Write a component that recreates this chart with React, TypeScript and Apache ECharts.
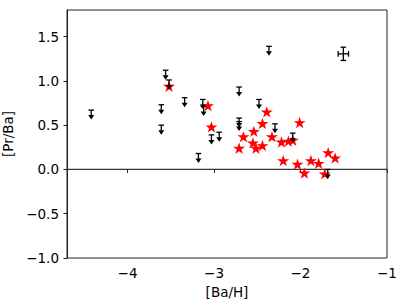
import React, { useEffect, useRef } from "react";
import * as echarts from "echarts";

// Detections (red stars)
const DET_BA_H = [-3.52, -3.07, -3.03, -2.71, -2.66, -2.54, -2.44, -2.39, -2.33, -2.55, -2.44, -2.515, -2.22, -2.14, -2.09, -2.01, -2.2, -2.035, -1.955, -1.88, -1.79, -1.68, -1.6, -1.72];
const DET_PR_BA = [0.94, 0.72, 0.48, 0.24, 0.37, 0.43, 0.52, 0.65, 0.37, 0.3, 0.27, 0.24, 0.31, 0.32, 0.33, 0.53, 0.1, 0.06, -0.04, 0.1, 0.07, 0.19, 0.13, -0.05];

// Upper limits (black downward arrows)
const LIM_BA_H = [-4.42, -3.61, -3.61, -3.56, -3.52, -3.34, -3.13, -3.12, -3.03, -2.94, -3.18, -2.365, -2.71, -2.48, -2.71, -2.71, -2.295, -2.09, -1.685];
const LIM_PR_BA = [0.67, 0.73, 0.5, 1.12, 1.01, 0.81, 0.79, 0.71, 0.39, 0.42, 0.18, 1.39, 0.93, 0.79, 0.58, 0.54, 0.515, 0.41, 0.0];

// Typical error bar
const ERR_POINT = [-1.505, 1.305];
const ERR_X = 0.06;
const ERR_Y = 0.075;

const X_RANGE = [-4.7, -1];
const Y_RANGE = [-1, 1.8];
const X_TICKS = [-4, -3, -2, -1];
const Y_TICKS = [-1, -0.5, 0, 0.5, 1, 1.5];
const ZERO_LEVEL = 0;

const X_LABEL = "[Ba/H]";
const Y_LABEL = "[Pr/Ba]";

const FONT = "DejaVu Sans";
const FS = 13.5;

const STAR_PATH =
  "path://M0,-100L22.45,-30.9L95.11,-30.9L36.33,11.8L58.78,80.9L0,38.2L-58.78,80.9L-36.33,11.8L-95.11,-30.9L-22.45,-30.9Z";

const minus = (s: string) => s.replace("-", "\u2212");

export default function App() {
  const ref = useRef<HTMLDivElement>(null);
  useEffect(() => {
    if (!ref.current) return;
    const chart = echarts.init(ref.current, null, { renderer: "svg" });
    const detData = DET_BA_H.map((x, i) => [x, DET_PR_BA[i]]);
    const limData = LIM_BA_H.map((x, i) => [x, LIM_PR_BA[i]]);
    const errData = [[ERR_POINT[0], ERR_POINT[1], ERR_X, ERR_Y]];
    const lineStyle = { stroke: "#000", lineWidth: 1.3, fill: null };

    chart.setOption({
      animation: false,
      grid: {
        left: 67,
        right: 20,
        top: 10,
        bottom: 47,
        show: true,
        borderColor: "#222",
        borderWidth: 1,
        outerBoundsMode: "none",
      },
      xAxis: {
        type: "value",
        min: X_RANGE[0],
        max: X_RANGE[1],
        name: X_LABEL,
        nameLocation: "middle",
        nameGap: 25,
        nameTextStyle: { fontFamily: FONT, fontSize: FS, color: "#000" },
        axisLine: { show: true, lineStyle: { color: "#222", width: 1 } },
        axisTick: { show: true, length: 3.5, customValues: X_TICKS, lineStyle: { color: "#222" } },
        axisLabel: {
          customValues: X_TICKS,
          margin: 8,
          fontFamily: FONT,
          fontSize: FS,
          color: "#000",
          formatter: (v: number) => minus(String(v)),
        },
        splitLine: { show: false },
      },
      yAxis: {
        type: "value",
        min: Y_RANGE[0],
        max: Y_RANGE[1],
        name: Y_LABEL,
        nameLocation: "middle",
        nameGap: 45,
        nameRotate: 90,
        nameTextStyle: { fontFamily: FONT, fontSize: FS, color: "#000" },
        axisLine: { show: true, lineStyle: { color: "#222", width: 1 } },
        axisTick: { show: true, length: 3.5, customValues: Y_TICKS, lineStyle: { color: "#222" } },
        axisLabel: {
          customValues: Y_TICKS,
          margin: 8,
          fontFamily: FONT,
          fontSize: FS,
          color: "#000",
          formatter: (v: number) => minus(v.toFixed(1)),
        },
        splitLine: { show: false },
      },
      series: [
        {
          type: "line",
          data: [
            [X_RANGE[0], ZERO_LEVEL],
            [X_RANGE[1], ZERO_LEVEL],
          ],
          symbol: "none",
          lineStyle: { color: "#333", width: 1.2 },
          silent: true,
          z: 1,
        },
        {
          type: "scatter",
          data: detData,
          symbol: STAR_PATH,
          symbolKeepAspect: true,
          symbolSize: 12,
          itemStyle: { color: "#ff0000", opacity: 1 },
          z: 3,
        },
        {
          type: "custom",
          coordinateSystem: "cartesian2d",
          data: limData,
          z: 4,
          renderItem: (_p: any, api: any) => {
            const c = api.coord([api.value(0), api.value(1)]);
            const x = c[0];
            const y = c[1];
            return {
              type: "group",
              children: [
                { type: "line", shape: { x1: x - 2.8, y1: y, x2: x + 2.8, y2: y }, style: lineStyle },
                { type: "line", shape: { x1: x, y1: y, x2: x, y2: y + 5.5 }, style: lineStyle },
                {
                  type: "polygon",
                  shape: { points: [[x - 3, y + 5], [x + 3, y + 5], [x, y + 9.5]] },
                  style: { fill: "#000" },
                },
              ],
            };
          },
        },
        {
          type: "custom",
          coordinateSystem: "cartesian2d",
          data: errData,
          z: 4,
          renderItem: (_p: any, api: any) => {
            const xv = api.value(0);
            const yv = api.value(1);
            const ex = api.value(2);
            const ey = api.value(3);
            const l = api.coord([xv - ex, yv]);
            const r = api.coord([xv + ex, yv]);
            const t = api.coord([xv, yv + ey]);
            const b = api.coord([xv, yv - ey]);
            const cap = 2.8;
            return {
              type: "group",
              children: [
                { type: "line", shape: { x1: l[0], y1: l[1], x2: r[0], y2: r[1] }, style: lineStyle },
                { type: "line", shape: { x1: t[0], y1: t[1], x2: b[0], y2: b[1] }, style: lineStyle },
                { type: "line", shape: { x1: l[0], y1: l[1] - cap, x2: l[0], y2: l[1] + cap }, style: lineStyle },
                { type: "line", shape: { x1: r[0], y1: r[1] - cap, x2: r[0], y2: r[1] + cap }, style: lineStyle },
                { type: "line", shape: { x1: t[0] - cap, y1: t[1], x2: t[0] + cap, y2: t[1] }, style: lineStyle },
                { type: "line", shape: { x1: b[0] - cap, y1: b[1], x2: b[0] + cap, y2: b[1] }, style: lineStyle },
              ],
            };
          },
        },
      ],
    });
    return () => chart.dispose();
  }, []);
  return (
    <div
      ref={ref}
      style={{ position: "fixed", left: 0, top: 0, width: 407, height: 305, background: "#fff" }}
    />
  );
}
